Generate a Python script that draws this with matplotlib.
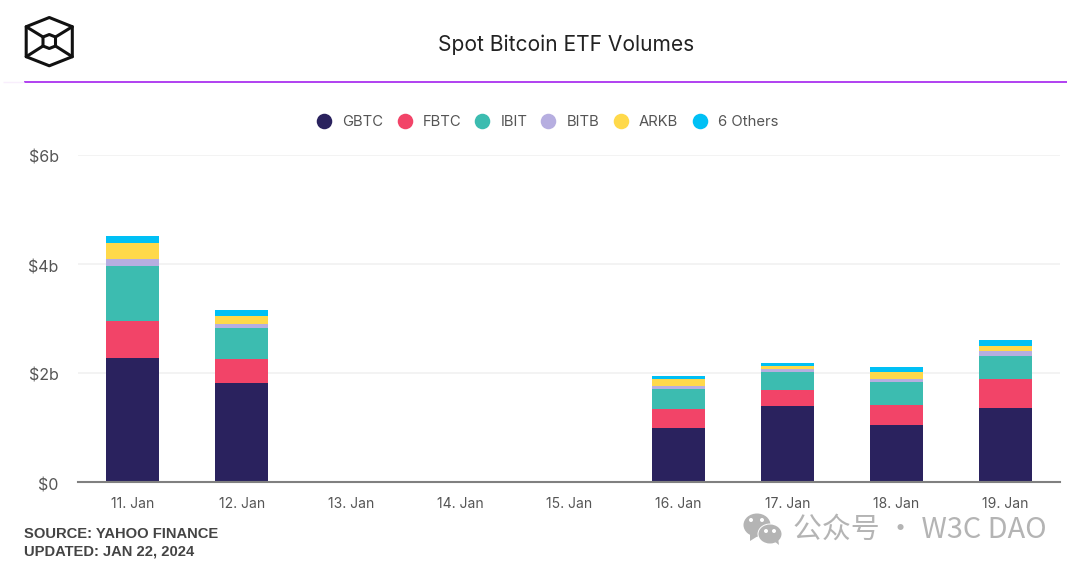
import matplotlib
matplotlib.use("Agg")
import matplotlib.pyplot as plt
from matplotlib.patches import Ellipse, Polygon
from matplotlib.transforms import ScaledTranslation
import numpy as np

plt.rcParams['font.family'] = ['Inter', 'Noto Sans CJK SC', 'DejaVu Sans']

days = ["11. Jan", "12. Jan", "13. Jan", "14. Jan", "15. Jan", "16. Jan", "17. Jan", "18. Jan", "19. Jan"]
gbtc = [2.28, 1.81, 0, 0, 0, 1.00, 1.39, 1.05, 1.365]
fbtc = [0.68, 0.447, 0, 0, 0, 0.344, 0.29, 0.367, 0.52]
ibit = [1.01, 0.574, 0, 0, 0, 0.36, 0.338, 0.427, 0.422]
bitb = [0.12, 0.075, 0, 0, 0, 0.056, 0.05, 0.044, 0.104]
arkb = [0.29, 0.14, 0, 0, 0, 0.128, 0.055, 0.134, 0.085]
others = [0.13, 0.104, 0, 0, 0, 0.06, 0.055, 0.086, 0.105]
series_names = ["GBTC", "FBTC", "IBIT", "BITB", "ARKB", "6 Others"]
series_values = [gbtc, fbtc, ibit, bitb, arkb, others]
colors = ["#2A225E", "#F24468", "#3CBCB0", "#B6AEE0", "#FFD94A", "#00C0F5"]
y_ticks = [0, 2, 4, 6]
y_labels = ["$0", "$2b", "$4b", "$6b"]

W, H = 1080, 573
fig = plt.figure(figsize=(W / 100, H / 100), dpi=100, facecolor="white")
ax = fig.add_axes([78 / W, 1 - 482 / H, 982 / W, 327 / H])
bottom = np.zeros(len(days))
x = np.arange(len(days))
for vals, c, n in zip(series_values, colors, series_names):
    ax.bar(x, vals, 0.485, bottom=bottom, color=c, label=n, zorder=3)
    bottom += np.array(vals)
ax.set_xlim(-0.5, 8.5)
ax.set_ylim(0, 6)
ax.set_yticks(y_ticks)
ax.set_yticklabels(y_labels, fontsize=11.5, color="#555555")
ax.set_xticks(x)
ax.set_xticklabels(days, fontsize=10, color="#555555")
ax.tick_params(axis="both", length=0)
ax.tick_params(axis="y", pad=14)
ax.tick_params(axis="x", pad=11)
shift = ScaledTranslation(0, -3.5 / 100, fig.dpi_scale_trans)
for lab in ax.get_yticklabels():
    lab.set_verticalalignment("center")
    lab.set_transform(lab.get_transform() + shift)
ax.grid(axis="y", color="#F1F1F1", lw=1.2, zorder=0)
ax.set_axisbelow(True)
for s in ["top", "right", "left"]:
    ax.spines[s].set_visible(False)
ax.spines["bottom"].set_color("#808080")
ax.spines["bottom"].set_linewidth(1.5)
ax.spines["bottom"].set_zorder(5)

# overlay in pixel coordinates for header, legend and footer
ov = fig.add_axes([0, 0, 1, 1], facecolor="none")
ov.set_xlim(0, W)
ov.set_ylim(H, 0)
ov.axis("off")

ov.text(566, 44.5, "Spot Bitcoin ETF Volumes", ha="center", va="center", fontsize=15.1, color="#222222")
ov.plot([24, 1067], [81.5, 81.5], color="#B040F0", lw=1.4, solid_capstyle="butt")
ov.plot([3, 24], [82, 82], color="#F8EEFC", lw=1.0, solid_capstyle="butt")

# logo
k = dict(color="#111111", lw=2.2, solid_joinstyle="round", solid_capstyle="round")
ov.add_patch(Polygon([(49.3, 17.5), (72.3, 26.7), (72.3, 56.7), (49.3, 65.8), (26.2, 56.7), (26.2, 26.7)],
                     closed=True, fill=False, ec="#111111", lw=2.2, joinstyle="round"))
ov.add_patch(Polygon([(49.3, 34.5), (55.5, 37), (55.5, 46), (49.3, 48.5), (43, 46), (43, 37)],
                     closed=True, fill=False, ec="#111111", lw=2.2, joinstyle="round"))
ov.plot([26.2, 43], [26.7, 37], **k)
ov.plot([72.3, 55.5], [26.7, 37], **k)
ov.plot([26.2, 43], [56.7, 46], **k)
ov.plot([72.3, 55.5], [56.7, 46], **k)

# legend
dot_x = [323.5, 404.5, 482, 548, 621, 700]
txt_x = [342, 423, 501, 567, 639, 718]
for dx, tx, c, n in zip(dot_x, txt_x, colors, series_names):
    ov.scatter([dx], [121], s=125, color=c, linewidths=0)
    ov.text(tx, 122, n, ha="left", va="center", fontsize=10.7, color="#555555")

# footer
ov.text(24, 534, "SOURCE: YAHOO FINANCE", ha="left", va="center", fontsize=10.65, fontweight="bold",
        color="#444444", family="Liberation Sans")
ov.text(24, 551, "UPDATED: JAN 22, 2024", ha="left", va="center", fontsize=10.65, fontweight="bold",
        color="#444444", family="Liberation Sans")

# watermark
g = "#B4B4B4"
ov.add_patch(Ellipse((757, 525), 27, 23, color=g, lw=0))
ov.add_patch(Polygon([(750, 534), (750, 541), (758, 536)], color=g, lw=0))
ov.add_patch(Ellipse((770, 534), 25, 21, color="white", lw=0))
ov.add_patch(Ellipse((770, 534), 23, 19, color=g, lw=0))
ov.add_patch(Polygon([(774, 541), (779, 545), (778, 538)], color=g, lw=0))
for px, py in [(751, 520), (762, 520), (766, 531), (774, 531)]:
    ov.add_patch(Ellipse((px, py), 4, 4, color="white", lw=0))
ov.text(793, 530, "公众号 · W3C DAO", ha="left", va="center", fontsize=20.8, color=g,
        family=["Noto Sans CJK SC", "DejaVu Sans"])

fig.savefig("out.png", dpi=100)
